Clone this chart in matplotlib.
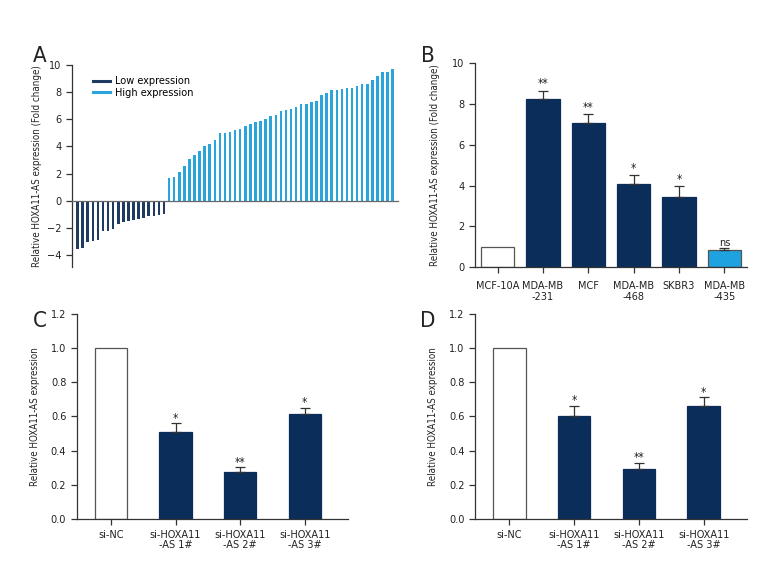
import matplotlib
matplotlib.use("Agg")
import matplotlib.pyplot as plt
from matplotlib.lines import Line2D
import numpy as np

plt.rcParams['font.family'] = ['DejaVu Sans']
plt.rcParams['font.stretch'] = 'condensed'

# ---------------- Data ----------------
low_expr = [-3.55, -3.5, -3.05, -2.95, -2.9, -2.25, -2.2, -2.1, -1.7, -1.6,
            -1.5, -1.4, -1.35, -1.3, -1.15, -1.1, -1.05, -1.0]
high_expr = [1.69, 1.76, 2.08, 2.55, 3.04, 3.36, 3.63, 4.02, 4.19, 4.5,
             4.95, 5.0, 5.02, 5.17, 5.25, 5.47, 5.61, 5.76, 5.83, 6.03,
             6.23, 6.32, 6.6, 6.67, 6.72, 6.91, 7.13, 7.13, 7.25, 7.33,
             7.75, 7.94, 8.11, 8.14, 8.24, 8.31, 8.31, 8.46, 8.55, 8.58,
             8.9, 9.17, 9.46, 9.49, 9.66]

b_labels = ['MCF-10A', 'MDA-MB\n-231', 'MCF', 'MDA-MB\n-468', 'SKBR3', 'MDA-MB\n-435']
b_values = [1.0, 8.25, 7.07, 4.1, 3.43, 0.83]
b_errors = [0.0, 0.4, 0.43, 0.41, 0.54, 0.1]
b_sig = ['', '**', '**', '*', '*', 'ns']

si_labels = ['si-NC', 'si-HOXA11\n-AS 1#', 'si-HOXA11\n-AS 2#', 'si-HOXA11\n-AS 3#']
c_values = [1.0, 0.507, 0.273, 0.615]
c_errors = [0.0, 0.053, 0.03, 0.037]
c_sig = ['', '*', '**', '*']
d_values = [1.0, 0.603, 0.291, 0.661]
d_errors = [0.0, 0.06, 0.037, 0.05]
d_sig = ['', '*', '**', '*']

NAVY = '#0b2d5a'
LOWC = '#1f3b62'
HIGHC = '#2aa5dc'
LIGHT = '#1ea3e0'
EDGE = '#555555'
AXC = '#333333'
TXT = '#222222'
FS = 7.8
YFS = 7.0

fig = plt.figure(figsize=(7.8, 5.76), dpi=100)

def style_axes(ax):
    for s in ['top', 'right']:
        ax.spines[s].set_visible(False)
    for s in ['left', 'bottom']:
        ax.spines[s].set_color(AXC)
        ax.spines[s].set_linewidth(0.9)
    ax.tick_params(axis='both', colors=AXC, labelcolor=TXT, labelsize=FS,
                   length=4, width=0.9)

# ---------------- Panel A ----------------
axA = fig.add_axes([0.0923, 0.537, 0.418, 0.3507])
style_axes(axA)
vals_a = low_expr + high_expr
cols_a = [LOWC] * len(low_expr) + [HIGHC] * len(high_expr)
xa = np.arange(len(vals_a))
axA.bar(xa, vals_a, width=0.5, color=cols_a, linewidth=0)
axA.set_xlim(-1.1, len(vals_a) - 1 + 1.05)
axA.set_ylim(-4.85, 10)
axA.set_yticks([-4, -2, 0, 2, 4, 6, 8, 10])
axA.set_yticklabels(['\u22124', '\u22122', '0', '2', '4', '6', '8', '10'])
axA.spines['bottom'].set_position(('data', 0))
axA.spines['bottom'].set_color('#666666')
axA.set_xticks([])
axA.set_ylabel('Relative HOXA11-AS expression (Fold change)', fontsize=YFS, color=TXT, labelpad=4)
handles = [Line2D([0], [0], color=LOWC, lw=2.2), Line2D([0], [0], color=HIGHC, lw=2.2)]
axA.legend(handles, ['Low expression', 'High expression'], loc='upper left',
           bbox_to_anchor=(0.035, 0.99), frameon=False, fontsize=FS,
           handlelength=1.6, handletextpad=0.4, labelspacing=0.15)

# ---------------- Panel B ----------------
axB = fig.add_axes([0.609, 0.536, 0.3487, 0.354])
style_axes(axB)
xb = np.arange(len(b_values))
cols_b = ['white', NAVY, NAVY, NAVY, NAVY, LIGHT]
edges_b = [EDGE, NAVY, NAVY, NAVY, NAVY, EDGE]
axB.bar(xb, b_values, width=0.73, color=cols_b, edgecolor=edges_b, linewidth=0.9)
for i, (v, e, s) in enumerate(zip(b_values, b_errors, b_sig)):
    if e > 0:
        axB.errorbar(i, v, yerr=[[0], [e]], color=AXC, capsize=3.5, elinewidth=0.9, capthick=0.9)
    if s:
        axB.text(i, v + e + 0.02, s, ha='center', va='bottom', fontsize=8.5 if s != 'ns' else FS, color=TXT)
axB.set_xlim(-0.5, 5.5)
axB.set_ylim(0, 10)
axB.set_yticks([0, 2, 4, 6, 8, 10])
axB.set_xticks(xb)
axB.set_xticklabels(b_labels, fontsize=FS, linespacing=1.05)
axB.tick_params(axis='x', pad=6)
axB.set_ylabel('Relative HOXA11-AS expression (Fold change)', fontsize=YFS, color=TXT, labelpad=9)

# ---------------- Panels C and D ----------------
def knock_panel(rect, vals, errs, sig):
    ax = fig.add_axes(rect)
    style_axes(ax)
    x = np.arange(len(vals))
    cols = ['white'] + [NAVY] * (len(vals) - 1)
    edges = [EDGE] + [NAVY] * (len(vals) - 1)
    ax.bar(x, vals, width=0.5, color=cols, edgecolor=edges, linewidth=0.9)
    for i, (v, e, s) in enumerate(zip(vals, errs, sig)):
        if e > 0:
            ax.errorbar(i, v, yerr=[[0], [e]], color=AXC, capsize=3.5, elinewidth=0.9, capthick=0.9)
        if s:
            ax.text(i, v + e - 0.008, s, ha='center', va='bottom', fontsize=8.5, color=TXT)
    ax.set_xlim(-0.53, 3.67)
    ax.set_ylim(0, 1.2)
    ax.set_yticks([0.0, 0.2, 0.4, 0.6, 0.8, 1.0, 1.2])
    ax.set_yticklabels(['0.0', '0.2', '0.4', '0.6', '0.8', '1.0', '1.2'])
    ax.set_xticks(x)
    ax.set_xticklabels(si_labels, fontsize=FS, linespacing=1.05)
    ax.tick_params(axis='x', pad=4)
    ax.set_ylabel('Relative HOXA11-AS expression', fontsize=YFS, color=TXT, labelpad=8)
    return ax

axC = knock_panel([0.0983, 0.099, 0.348, 0.356], c_values, c_errors, c_sig)
axD = knock_panel([0.609, 0.099, 0.3487, 0.356], d_values, d_errors, d_sig)

# Panel letters
for lab, (px, py) in zip(['A', 'B', 'C', 'D'], [(40, 56), (428, 56), (40, 321), (428, 321)]):
    fig.text(px / 780, 1 - py / 576, lab, fontsize=16, ha='center', va='center', color=TXT)

fig.savefig('out.png', dpi=100)
